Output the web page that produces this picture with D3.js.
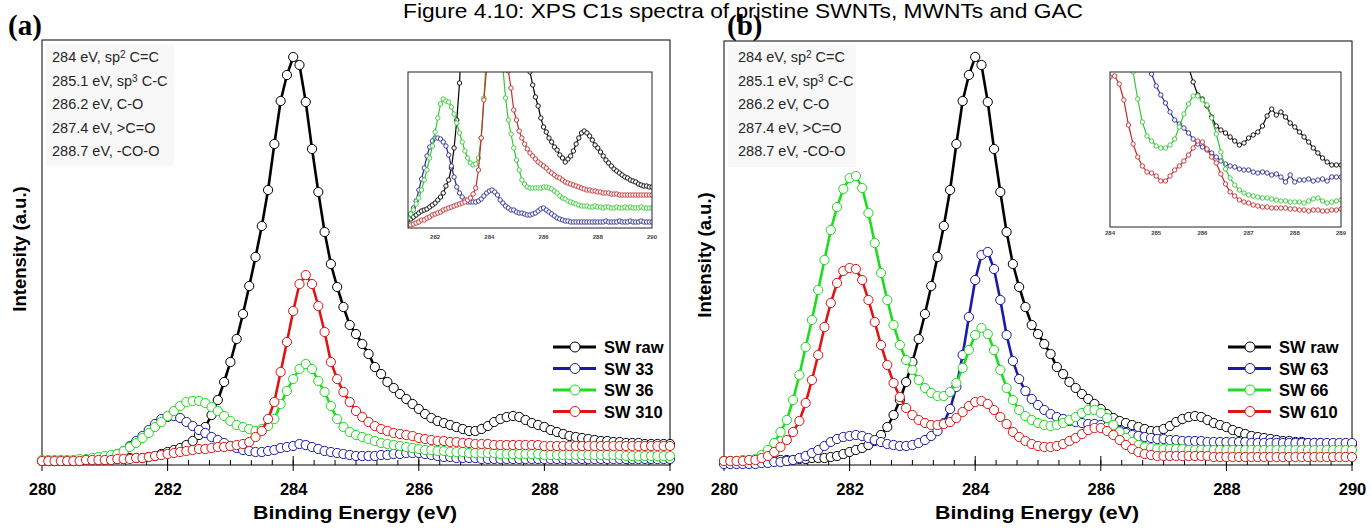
<!DOCTYPE html>
<html>
<head>
<meta charset="utf-8">
<script src="https://cdn.jsdelivr.net/npm/d3@7"></script>
<style>
  body { margin: 0; background: #fff; }
  svg { display: block; }
</style>
</head>
<body>
<svg id="chart" width="1371" height="529"></svg>
<script>
// ---- binding-energy grids (eV) ----
const energyMain = [280.0,280.1,280.2,280.3,280.4,280.5,280.6,280.7,280.8,280.9,
  281.0,281.1,281.2,281.3,281.4,281.5,281.6,281.7,281.8,281.9,
  282.0,282.1,282.2,282.3,282.4,282.5,282.6,282.7,282.8,282.9,
  283.0,283.1,283.2,283.3,283.4,283.5,283.6,283.7,283.8,283.9,
  284.0,284.1,284.2,284.3,284.4,284.5,284.6,284.7,284.8,284.9,
  285.0,285.1,285.2,285.3,285.4,285.5,285.6,285.7,285.8,285.9,
  286.0,286.1,286.2,286.3,286.4,286.5,286.6,286.7,286.8,286.9,
  287.0,287.1,287.2,287.3,287.4,287.5,287.6,287.7,287.8,287.9,
  288.0,288.1,288.2,288.3,288.4,288.5,288.6,288.7,288.8,288.9,
  289.0,289.1,289.2,289.3,289.4,289.5,289.6,289.7,289.8,289.9,290.0];

const energyInsetA = [281.0,281.1,281.2,281.3,281.4,281.5,281.6,281.7,281.8,281.9,
  282.0,282.1,282.2,282.3,282.4,282.5,282.6,282.7,282.8,282.9,
  283.0,283.1,283.2,283.3,283.4,283.5,283.6,283.7,283.8,283.9,
  284.0,284.1,284.2,284.3,284.4,284.5,284.6,284.7,284.8,284.9,
  285.0,285.1,285.2,285.3,285.4,285.5,285.6,285.7,285.8,285.9,
  286.0,286.1,286.2,286.3,286.4,286.5,286.6,286.7,286.8,286.9,
  287.0,287.1,287.2,287.3,287.4,287.5,287.6,287.7,287.8,287.9,
  288.0,288.1,288.2,288.3,288.4,288.5,288.6,288.7,288.8,288.9,
  289.0,289.1,289.2,289.3,289.4,289.5,289.6,289.7,289.8,289.9,290.0];

const energyInsetB = [284.0,284.1,284.2,284.3,284.4,284.5,284.6,284.7,284.8,284.9,
  285.0,285.1,285.2,285.3,285.4,285.5,285.6,285.7,285.8,285.9,
  286.0,286.1,286.2,286.3,286.4,286.5,286.6,286.7,286.8,286.9,
  287.0,287.1,287.2,287.3,287.4,287.5,287.6,287.7,287.8,287.9,
  288.0,288.1,288.2,288.3,288.4,288.5,288.6,288.7,288.8,288.9,289.0];

// ---- C1s intensities (a.u.), main panels ----
const swRaw = [4,4,4,4,4,4,4,5,5,5, 5,5,6,6,7,7,7,8,9,11,
  13,15,17,20,24,30,38,50,65,83, 103,126,151,179,208,239,275,321,364,390,
  408,400,363,316,273,233,201,178,158,140, 131,121,111,98,91,83,77,71,66,61,
  56,51,47,44,42,40,38,36,34,34, 36,39,43,46,48,49,48,45,42,40,
  38,35,33,31,29,28,27,26,25,24, 24,23,23,22,22,22,21,21,21,21,21];

const sw33 = [4,4,4,4,4,4,4,5,5,6, 7,8,11,14,19,24,29,35,41,46,
  48,49,47,43,39,35,32,28,25,22, 19,17,15,14,13,13,14,15,17,18,
  19,21,20,18,16,14,13,12,11,10, 9,9,9,9,10,10,11,11,12,12,
  12,11,10,9,8,8,7,7,7,7, 6,6,6,6,6,6,6,6,6,6,
  6,6,6,6,6,6,6,6,6,6, 6,6,6,6,6,6,6,6,6,6,6];

const sw36 = [5,5,5,5,5,5,6,6,7,8, 9,10,11,14,18,22,27,32,38,43,
  49,54,59,63,64,64,62,58,54,49, 44,40,38,36,34,36,39,46,61,74,
  86,96,101,96,84,73,59,46,38,33, 30,28,26,24,22,21,20,19,18,17,
  16,15,15,14,14,13,13,13,12,12, 12,12,12,11,11,11,11,11,11,11,
  10,10,10,10,10,10,10,10,10,10, 10,10,10,9,9,9,9,9,9,9,9];

const sw310 = [4,4,4,4,4,4,4,5,5,5, 5,5,6,6,6,7,7,8,9,10,
  11,12,13,14,15,16,16,17,18,18, 19,20,21,23,28,34,46,63,93,123,
  154,181,190,181,159,133,103,86,73,63, 54,48,43,39,36,34,32,31,30,29,
  27,26,25,24,24,23,23,22,22,21, 21,21,20,20,20,20,20,20,20,20,
  19,19,19,19,19,19,19,19,19,19, 19,19,19,19,19,19,19,19,19,19,19];

const sw63 = [1,1,1,1,1,1,2,2,3,3, 4,5,7,9,12,15,19,23,26,28,
  29,30,29,27,25,23,21,20,19,19, 20,22,25,29,34,42,56,78,110,148,
  185,210,213,196,165,130,104,86,74,66, 60,55,51,48,46,44,43,42,41,41,
  40,38,36,34,32,30,29,28,27,26, 26,25,25,24,24,24,24,23,23,23,
  23,23,23,23,22,22,22,22,22,22, 22,22,22,22,22,22,22,22,22,22,22];

const sw66 = [4,4,4,5,5,6,10,15,22,33, 45,65,90,118,145,175,205,235,258,276,
  287,289,277,252,222,192,165,140,120,105, 95,85,77,72,69,69,73,82,97,115,
  130,137,131,115,95,77,65,55,49,45, 42,40,39,40,42,45,48,52,55,55,
  52,47,40,33,27,23,20,18,17,16, 16,16,16,16,15,15,15,15,15,15,
  15,15,15,15,15,15,15,15,15,15, 15,15,15,15,15,15,15,15,15,15,15];

const sw610 = [4,4,4,4,5,5,7,9,13,18, 25,33,44,62,85,110,138,162,182,194,
  197,196,185,165,143,120,100,82,68,57, 50,45,42,40,40,41,43,47,53,59,
  63,64,61,55,48,41,33,28,24,21, 19,18,18,19,21,24,27,31,35,37,
  37,34,30,25,20,16,13,11,10,9, 9,9,9,9,9,9,9,9,8,8,
  8,8,8,8,8,8,8,8,8,8, 8,8,8,8,8,8,8,8,8,8,8];

// ---- inset spectra (expanded intensity) ----
const insetARaw = [8,9,11,13,15,17,18,19,21,23, 25,28,31,35,42,48,60,80,108,145,
  200,260,320,400,480,560,650,760,860,920, 960,940,860,740,630,540,460,400,350,310,
  270,235,205,182,165,156,143,131,122,110, 101,96,90,86,81,78,73,70,66,69,
  72,77,84,90,95,97,95,92,88,83, 80,76,72,68,65,62,59,57,55,53,
  51,50,48,47,46,44,43,42,42,41,41];
const insetA33 = [11,14,20,27,38,49,60,72,81,87, 90,90,89,86,82,73,62,51,41,35,
  31,28,26,26,26,26,27,29,32,35, 37,38,36,33,28,25,22,20,18,18,
  16,15,15,14,13,13,14,15,17,19, 20,18,16,14,12,10,9,8,7,7,
  6,6,6,6,6,6,6,6,6,6, 6,6,6,7,6,6,6,6,7,6,
  6,6,7,6,6,6,7,6,6,6,6];
const insetA36 = [10,14,18,24,30,38,48,58,70,82, 96,110,124,129,127,126,121,114,105,95,
  86,77,70,65,63,64,70,90,130,175, 220,250,260,250,200,160,130,108,94,80,
  68,58,48,44,41,40,40,40,40,40, 41,41,40,39,37,35,32,30,29,27,
  26,25,24,23,22,22,22,21,21,22, 21,21,20,21,21,20,20,21,20,20,
  21,20,21,20,20,20,21,20,20,20,20];
const insetA310 = [3,3,4,5,6,8,8,10,11,13, 14,15,16,18,19,20,21,22,23,24,
  25,26,28,30,34,40,58,90,128,160, 220,280,300,290,250,210,175,157,140,118,
  108,97,90,84,79,75,72,69,66,64, 62,60,57,55,53,51,50,48,46,45,
  44,43,42,41,40,39,38,38,37,37, 36,36,35,35,35,34,34,34,33,33,
  33,33,33,33,33,33,33,33,33,33,33];

const insetBRaw = [900,850,750,650,560,480,420,370,330,300,
  280,255,235,215,200,185,172,160,145,132, 128,121,110,101,97,94,90,86,82,84,
  89,92,95,101,111,118,112,115,110,104, 100,95,90,85,79,74,69,65,62,62,62];
const insetB63 = [320,300,280,255,235,215,198,183,170,153,
  141,132,124,115,107,103,99,94,88,83, 80,77,74,70,66,63,61,60,58,57,
  57,55,54,55,54,52,53,50,45,52, 45,47,47,48,46,47,48,46,50,50,50];
const insetB66 = [300,280,250,215,180,155,128,105,91,86,
  81,79,79,82,88,100,113,123,131,131, 127,122,109,93,75,58,49,42,37,34,
  32,31,30,29,29,28,27,26,26,25, 25,25,24,26,28,29,26,24,25,26,27];
const insetB610 = [150,151,143,127,102,83,70,61,55,54,
  51,46,46,51,57,61,66,72,79,86, 85,78,70,64,53,43,35,31,27,25,
  24,22,21,20,20,19,19,19,19,18, 18,17,17,16,17,17,16,16,17,17,18];

// ---- labels ----
const legendA = ["SW raw", "SW 33", "SW 36", "SW 310"];
const legendB = ["SW raw", "SW 63", "SW 66", "SW 610"];
const xTicksMain = [280, 282, 284, 286, 288, 290];
const xTicksInsetA = [282, 284, 286, 288, 290];
const xTicksInsetB = [284, 285, 286, 287, 288, 289];
const peakNotes = [
  ["284 eV, sp", "2", " C=C"],
  ["285.1 eV, sp", "3", " C-C"],
  ["286.2 eV, C-O"],
  ["287.4 eV, >C=O"],
  ["288.7 eV, -CO-O"]
];
const titleText = "Figure 4.10: XPS C1s spectra of pristine SWNTs, MWNTs and GAC";

const mainColors = ["#000000", "#1a1aa6", "#1edc1e", "#e01414"];
const insetColors = ["#000000", "#2b2b96", "#36c736", "#c22c2c"];

const svg = d3.select("#chart");

svg.append("text")
  .attr("x", 743).attr("y", 18)
  .attr("text-anchor", "middle")
  .attr("font-family", "Liberation Sans, Arial, sans-serif")
  .attr("font-size", 21)
  .attr("textLength", 680).attr("lengthAdjust", "spacingAndGlyphs")
  .text(titleText);

function drawPanel(cfg) {
  const g = svg.append("g");
  const x = d3.scaleLinear().domain([280, 290]).range([cfg.left, cfg.right]);
  const y = d3.scaleLinear().domain([0, 425]).range([cfg.bottom, cfg.bottom - 425]);

  // panel letter
  g.append("text")
    .attr("x", cfg.letterX).attr("y", 35)
    .attr("font-family", "Liberation Serif, Times New Roman, serif")
    .attr("font-weight", "bold").attr("font-size", 29)
    .text(cfg.letter);

  // frame
  g.append("rect")
    .attr("x", cfg.left).attr("y", cfg.top)
    .attr("width", cfg.right - cfg.left).attr("height", cfg.bottom - cfg.top)
    .attr("fill", "none").attr("stroke", "#000").attr("stroke-width", 1);

  // peak assignment notes
  g.append("rect")
    .attr("x", cfg.left + 4).attr("y", cfg.top + 4)
    .attr("width", 128).attr("height", 122)
    .attr("fill", "#f8f8f8");
  peakNotes.forEach((parts, i) => {
    const t = g.append("text")
      .attr("x", cfg.noteX).attr("y", 62 + i * 23.5)
      .attr("font-family", "Liberation Sans, Arial, sans-serif")
      .attr("font-size", 14.5).attr("fill", "#262626");
    t.append("tspan").text(parts[0]);
    if (parts.length > 1) {
      t.append("tspan").attr("font-size", 10).attr("dy", -4).text(parts[1]);
      t.append("tspan").attr("dy", 4).text(parts[2]);
    }
  });

  // axis tick labels
  const axis = d3.axisBottom(x).tickValues(xTicksMain).tickSize(0).tickFormat(d3.format("d"));
  const ax = g.append("g").attr("transform", `translate(0,${cfg.bottom})`).call(axis);
  ax.select(".domain").remove();
  ax.selectAll("text")
    .attr("dy", 0).attr("y", 30)
    .attr("font-family", "Liberation Sans, Arial, sans-serif")
    .attr("font-weight", "bold").attr("font-size", 16.5).attr("fill", "#000");

  // tick marks: majors every 2 eV, minors every 1/3 eV
  const minor = d3.range(0, 31).map(i => 280 + i / 3);
  g.selectAll(".mtick").data(minor).join("line")
    .attr("x1", d => x(d)).attr("x2", d => x(d))
    .attr("y1", cfg.bottom).attr("y2", cfg.bottom - 5)
    .attr("stroke", "#000").attr("stroke-width", 1);
  g.selectAll(".btick").data(xTicksMain).join("line")
    .attr("x1", d => x(d)).attr("x2", d => x(d))
    .attr("y1", cfg.bottom - 9).attr("y2", cfg.bottom + 6)
    .attr("stroke", "#000").attr("stroke-width", 1);

  // axis titles
  g.append("text")
    .attr("x", (cfg.left + cfg.right) / 2 - 1).attr("y", 519)
    .attr("text-anchor", "middle")
    .attr("font-family", "Liberation Sans, Arial, sans-serif")
    .attr("font-weight", "bold").attr("font-size", 19)
    .attr("textLength", 204).attr("lengthAdjust", "spacingAndGlyphs")
    .text("Binding Energy (eV)");
  g.append("text")
    .attr("transform", `translate(${cfg.yLabelX},${cfg.yLabelY}) rotate(-90)`)
    .attr("text-anchor", "middle")
    .attr("font-family", "Liberation Sans, Arial, sans-serif")
    .attr("font-weight", "bold").attr("font-size", 18.5)
    .text("Intensity (a.u.)");

  // spectra
  const line = d3.line().x(d => x(d[0])).y(d => y(d[1]));
  cfg.series.forEach((vals, si) => {
    const pts = energyMain.map((e, i) => [e, vals[i]]);
    const sg = g.append("g");
    sg.append("path").datum(pts).attr("d", line)
      .attr("fill", "none").attr("stroke", mainColors[si]).attr("stroke-width", 2.6);
    sg.selectAll("circle").data(pts).join("circle")
      .attr("cx", d => x(d[0])).attr("cy", d => y(d[1])).attr("r", 4.6)
      .attr("fill", "#fff").attr("stroke", mainColors[si]).attr("stroke-width", 1);
  });

  // legend
  cfg.legend.forEach((name, i) => {
    const ly = cfg.legendY + i * 21.5;
    g.append("line")
      .attr("x1", cfg.legendX).attr("x2", cfg.legendX + 43)
      .attr("y1", ly).attr("y2", ly)
      .attr("stroke", mainColors[i]).attr("stroke-width", 3);
    g.append("circle")
      .attr("cx", cfg.legendX + 22).attr("cy", ly).attr("r", 5)
      .attr("fill", "#fff").attr("stroke", mainColors[i]).attr("stroke-width", 1);
    g.append("text")
      .attr("x", cfg.legendX + 51).attr("y", ly + 6)
      .attr("font-family", "Liberation Sans, Arial, sans-serif")
      .attr("font-weight", "bold").attr("font-size", 16.5)
      .text(name);
  });

  // inset
  const ins = cfg.inset;
  const ix = d3.scaleLinear().domain(ins.domain).range([ins.left, ins.right]);
  const iy = d3.scaleLinear().domain([0, ins.bottom - ins.top]).range([ins.bottom, ins.top]);
  const ig = g.append("g");
  ig.append("rect")
    .attr("x", ins.left).attr("y", ins.top)
    .attr("width", ins.right - ins.left).attr("height", ins.bottom - ins.top)
    .attr("fill", "#fff");
  const clipId = "clip-" + cfg.letter.replace(/[()]/g, "");
  ig.append("clipPath").attr("id", clipId).append("rect")
    .attr("x", ins.left).attr("y", ins.top)
    .attr("width", ins.right - ins.left).attr("height", ins.bottom - ins.top);
  const plot = ig.append("g").attr("clip-path", `url(#${clipId})`);
  const iline = d3.line().x(d => ix(d[0])).y(d => iy(d[1]));
  ins.series.forEach((vals, si) => {
    const pts = ins.energy.map((e, i) => [e, vals[i]]);
    plot.append("path").datum(pts).attr("d", iline)
      .attr("fill", "none").attr("stroke", insetColors[si]).attr("stroke-width", 1.2);
    plot.append("g").selectAll("circle").data(pts).join("circle")
      .attr("cx", d => ix(d[0])).attr("cy", d => iy(d[1])).attr("r", 2.2)
      .attr("fill", "#fff").attr("stroke", insetColors[si]).attr("stroke-width", 0.9);
  });
  ig.append("rect")
    .attr("x", ins.left).attr("y", ins.top)
    .attr("width", ins.right - ins.left).attr("height", ins.bottom - ins.top)
    .attr("fill", "none").attr("stroke", "#222").attr("stroke-width", 1);
  ig.selectAll(".itl").data(ins.ticks).join("text")
    .attr("x", d => ix(d)).attr("y", ins.bottom + ins.labelGap)
    .attr("text-anchor", "middle")
    .attr("font-family", "Liberation Sans, Arial, sans-serif")
    .attr("font-weight", "bold").attr("font-size", 6).attr("fill", "#444")
    .text(d => d);
}

drawPanel({
  letter: "(a)", letterX: 8, left: 42, right: 670, top: 40, bottom: 465,
  noteX: 52, yLabelX: 26, yLabelY: 249,
  legendX: 553, legendY: 347, legend: legendA,
  series: [swRaw, sw33, sw36, sw310],
  inset: {
    left: 408, right: 652, top: 72, bottom: 228, domain: [281, 290],
    energy: energyInsetA, ticks: xTicksInsetA, labelGap: 11,
    series: [insetARaw, insetA33, insetA36, insetA310]
  }
});

drawPanel({
  letter: "(b)", letterX: 727, left: 724, right: 1352, top: 41, bottom: 465,
  noteX: 738, yLabelX: 711, yLabelY: 255,
  legendX: 1228, legendY: 347, legend: legendB,
  series: [swRaw, sw63, sw66, sw610],
  inset: {
    left: 1110, right: 1341, top: 72, bottom: 227, domain: [284, 289],
    energy: energyInsetB, ticks: xTicksInsetB, labelGap: 8,
    series: [insetBRaw, insetB63, insetB66, insetB610]
  }
});
</script>
</body>
</html>
